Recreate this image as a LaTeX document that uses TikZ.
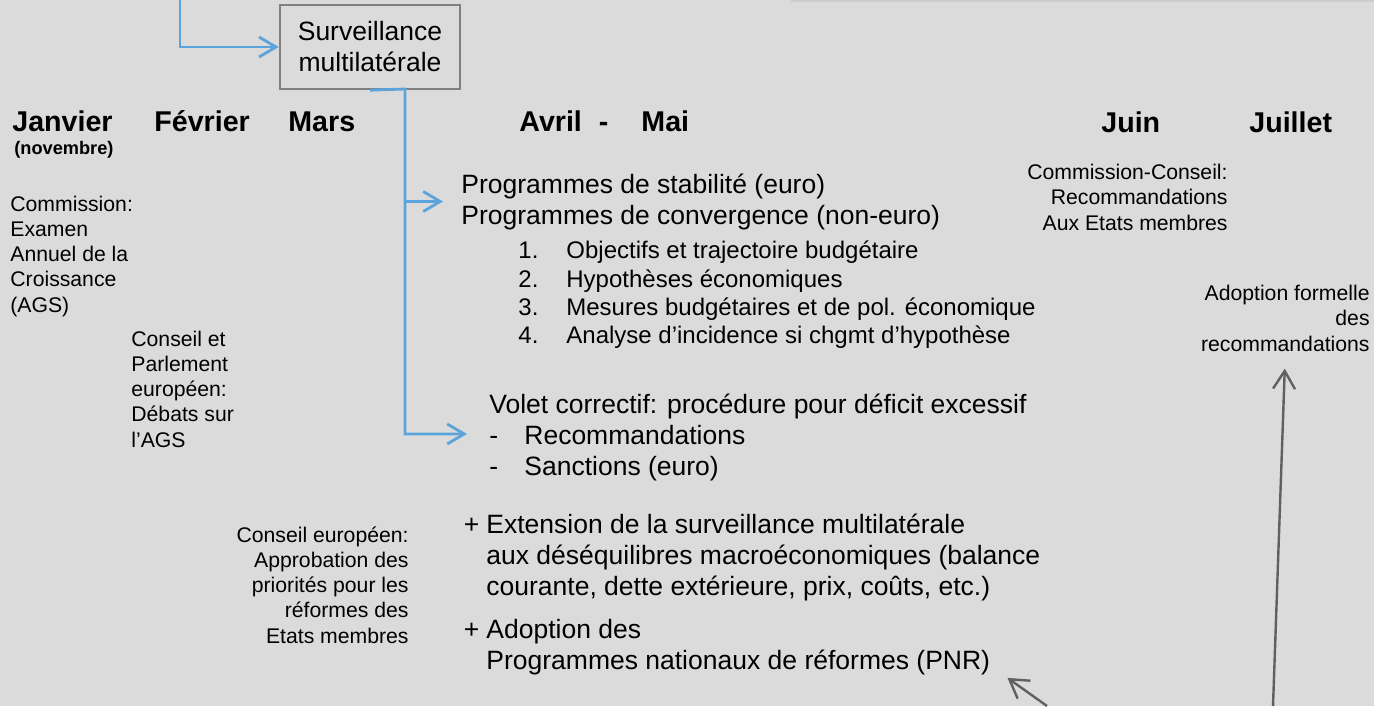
\documentclass[tikz,border=0pt]{standalone}
\usepackage{fontspec}
\setmainfont{Liberation Sans}
\usetikzlibrary{arrows.meta,positioning}
\definecolor{bggray}{RGB}{219,219,219}
\definecolor{flowblue}{RGB}{91,164,219}
\definecolor{boxgray}{RGB}{128,128,128}
\definecolor{arrowgray}{RGB}{96,96,96}
\definecolor{framegray}{RGB}{204,204,204}
\tikzset{
	x=0.5pt, y=-0.5pt, % one unit is one pixel of the slide, y going down
	every node/.style={inner sep=0pt}, % text sits right on its anchor
	month/.style={font=\bfseries\fontsize{14.3}{17}\selectfont, anchor=base west}, % month headers
	note/.style={font=\fontsize{10.6}{12.6}\selectfont, align=left, anchor=base west}, % small comments (anchored on last line)
	noteright/.style={note, align=right, anchor=base east},
	body/.style={font=\fontsize{13.25}{15.5}\selectfont, align=left, anchor=base west}, % main text
	listitem/.style={font=\fontsize{12}{14}\selectfont, anchor=base west}, % numbered points
	survbox/.style={draw=boxgray, line width=1.2pt, align=center, minimum width=90pt, minimum height=42pt, font=\fontsize{13.25}{15.5}\selectfont},
	flow/.style={draw=flowblue, line width=1.4pt, -{Straight Barb[length=8.5pt,width=10pt]}}, % blue connectors
	link/.style={draw=arrowgray, line width=1.2pt, -{Straight Barb[length=9pt,width=11pt]}}, % grey arrows
}

\begin{document}
\begin{tikzpicture}
	\fill[bggray] (0,0) rectangle (1374,706);
	\useasboundingbox (0,0) rectangle (1374,706);
	\draw[framegray, line width=1.5pt] (791,1) -- (1374,1);

	% months
	\node[month] (jan) at (12,132) {Janvier};
	\node[month, font=\bfseries\fontsize{9.1}{11}\selectfont] (nov) at (14,154) {(novembre)};
	\node[month] (feb) at (154,132) {Février};
	\node[month] (mar) at (288,132) {Mars};
	\node[month] (avr) at (519,132) {Avril\hspace{8.5pt}-\hspace{16.5pt}Mai};
	\node[month] (jun) at (1101,133) {Juin};
	\node[month] (jul) at (1249,133) {Juillet};

	% comments under the months
	\node[note] (comm) at (10,312) {Commission:\\Examen\\Annuel de la\\Croissance\\(AGS)};
	\node[note] (parl) at (131,447) {Conseil et\\Parlement\\européen:\\Débats sur\\l’AGS};
	\node[noteright] (council) at (409,643) {Conseil européen:\\Approbation des\\priorités pour les\\réformes des\\Etats membres};
	\node[noteright] (reco) at (1228,230) {Commission-Conseil:\\Recommandations\\Aux Etats membres};
	\node[noteright] (adopt) at (1370,351) {Adoption formelle\\des\\recommandations};

	% surveillance
	\node[survbox] (surv) at (370,47) {Surveillance\\multilatérale};
	\node[body] (prog) at (461,224) {Programmes de stabilité (euro)\\Programmes de convergence (non-euro)};
	\foreach \yy/\nn/\txt in {258/1/{Objectifs et trajectoire budgétaire},
			287/2/{Hypothèses économiques},
			315/3/{Mesures budgétaires et de pol. économique},
			343/4/{Analyse d’incidence si chgmt d’hypothèse}}{
		\node[listitem] (num\nn) at (518,\yy) {\nn.};
		\node[listitem] (item\nn) at (566,\yy) {\txt};
	}
	\node[body] (volet) at (489,475) {Volet correctif: procédure pour déficit excessif\\
		\makebox[17.5pt][l]{-}Recommandations\\
		\makebox[17.5pt][l]{-}Sanctions (euro)};
	\node[body] (ext) at (486,595) {\llap{+\hspace{3.5pt}}Extension de la surveillance multilatérale\\
		aux déséquilibres macroéconomiques (balance\\
		courante, dette extérieure, prix, coûts, etc.)};
	\node[body] (pnr) at (486,669) {\llap{+\hspace{3.5pt}}Adoption des\\Programmes nationaux de réformes (PNR)};

	% connectors
	\coordinate (feed) at (180,0);
	\coordinate (trunk) at (405,89);
	\draw[flow] (feed) |- (surv.west);
	\draw[flow, shorten >=11pt] (surv.south) -- (trunk) |- ([yshift=1.5pt]volet.west);
	\draw[flow, shorten >=9pt] (trunk) |- (prog.west);

	\coordinate (footA) at (1273,706);
	\coordinate (footB) at (1047,706);
	\draw[link, shorten >=8.5pt] (footA) -- (adopt.south);
	\draw[link] (footB) -- ([shift={(17,3)}]pnr.south east);
\end{tikzpicture}
\end{document}
